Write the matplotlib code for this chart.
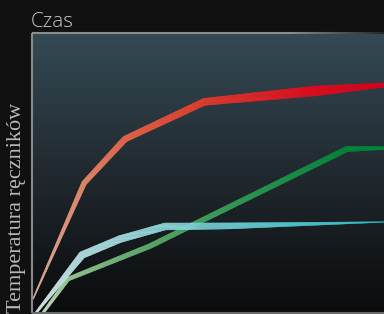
import numpy as np
import matplotlib
matplotlib.use('Agg')
import matplotlib.pyplot as plt
from matplotlib.collections import PolyCollection, LineCollection
from matplotlib.colors import to_rgba

# ---------------- data ----------------
time_red = [0.3, 14.8, 26.4, 48.9, 80.4, 100.0]
temp_red = [5.0, 46.4, 62.1, 75.4, 79.3, 81.4]

time_green = [3.1, 10.2, 33.5, 89.5, 100.0]
temp_green = [0.0, 12.1, 23.9, 58.6, 58.9]

time_cyan = [1.1, 14.2, 25.0, 37.8, 56.3, 100.0]
temp_cyan = [0.0, 20.7, 26.4, 30.9, 31.1, 32.5]

title_text = 'Czas'
ylabel_text = 'Temperatura ręczników'

# ---------------- styles ----------------
width_red = [1, 5, 6, 7, 10, 4]
color_red = ['#e8b8a8', '#ea8a6a', '#e8684a', '#e43c2c', '#e20a20', '#e00018']

width_green = [2.5, 4, 5, 5.5, 3]
color_green = ['#d0e4c8', '#9ccc98', '#5cae6c', '#00883a', '#008a3c']

width_cyan = [2, 7, 7, 7, 6, 0.6]
color_cyan = ['#e0f0ec', '#b4e2e4', '#a4dcdf', '#8ed4d8', '#6cccd2', '#30b8c0']

W, H = 384, 314
fig = plt.figure(figsize=(W / 100, H / 100), dpi=100, facecolor='#101010')
ax = fig.add_axes([32 / W, 1 / H, 352 / W, 280 / H])
ax.set_xlim(0, 100)
ax.set_ylim(0, 100)
ax.axis('off')

# background gradient
top = np.array(to_rgba('#344a55')[:3])
mid = np.array(to_rgba('#232c33')[:3])
bot = np.array(to_rgba('#0a0b0c')[:3])
n = 256
s = np.linspace(0, 1, n)[:, None]
grad = np.where(s < 0.45, top + (mid - top) * (s / 0.45), mid + (bot - mid) * ((s - 0.45) / 0.55))
ax.imshow(grad[:, None, :], extent=[0, 100, 0, 100], aspect='auto', zorder=0,
          origin='upper', interpolation='bilinear')


def ribbon(xs, ys, widths, colors, z):
    pts = ax.transData.transform(np.column_stack([xs, ys]))
    d = np.diff(pts, axis=0)
    L = np.hypot(d[:, 0], d[:, 1])
    t = d / L[:, None]
    nrm = np.column_stack([-t[:, 1], t[:, 0]])
    vn = np.zeros_like(pts)
    vn[0] = nrm[0]
    vn[-1] = nrm[-1]
    for i in range(1, len(pts) - 1):
        m = nrm[i - 1] + nrm[i]
        m /= np.linalg.norm(m)
        vn[i] = m / np.dot(m, nrm[i])
    half = np.array(widths, float) / 2
    cols = np.array([to_rgba(c) for c in colors])
    polys, fcs = [], []
    inv = ax.transData.inverted()
    for i in range(len(d)):
        k = max(1, int(np.ceil(L[i] / 1.0)))
        ss = np.linspace(0, 1, k + 1)
        for j in range(k):
            s0, s1 = ss[j], ss[j + 1]
            c0 = pts[i] + s0 * d[i]
            c1 = pts[i] + s1 * d[i]
            o0 = (1 - s0) * vn[i] * half[i] + s0 * vn[i + 1] * half[i + 1]
            o1 = (1 - s1) * vn[i] * half[i] + s1 * vn[i + 1] * half[i + 1]
            quad = np.array([c0 + o0, c1 + o1, c1 - o1, c0 - o0])
            polys.append(inv.transform(quad))
            sm = 0.5 * (s0 + s1)
            fcs.append((1 - sm) * cols[i] + sm * cols[i + 1])
    pc = PolyCollection(polys, facecolors=fcs, edgecolors=fcs, linewidths=0.25,
                        zorder=z, antialiased=True)
    ax.add_collection(pc)


ribbon(time_red, temp_red, width_red, color_red, 3)
ribbon(time_green, temp_green, width_green, color_green, 4)
ribbon(time_cyan, temp_cyan, width_cyan, color_cyan, 5)

# frame
ax.plot([0, 0], [0, 100], color='#8a8a8a', lw=1.5, clip_on=False, zorder=6, solid_capstyle='butt')
ax.plot([0, 100], [0, 0], color='#6a6a6a', lw=1.5, clip_on=False, zorder=6, solid_capstyle='butt')
xs = np.linspace(0, 100, 200)
segs = [[(xs[i], 100), (xs[i + 1], 100)] for i in range(len(xs) - 1)]
g0 = np.array(to_rgba('#8c8c8c'))
g1 = np.array(to_rgba('#262626'))
segcols = []
for i in range(len(xs) - 1):
    xm = 0.5 * (xs[i] + xs[i + 1])
    f = 0 if xm < 73 else (xm - 73) / 27
    segcols.append((1 - f) * g0 + f * g1)
ax.add_collection(LineCollection(segs, colors=segcols, linewidths=1.5, clip_on=False, zorder=6))

# texts
fig.text(31 / W, 1 - 27 / H, title_text, ha='left', va='baseline', fontsize=14.8,
         color='#c8c8c8', family='Open Sans', fontweight='light')
fig.text(17 / W, 1 - 313 / H, ylabel_text, rotation=90, ha='center', va='bottom',
         family='Liberation Serif', fontsize=16, color='#b8b8b8')

fig.savefig('out.png', dpi=100, facecolor=fig.get_facecolor())
